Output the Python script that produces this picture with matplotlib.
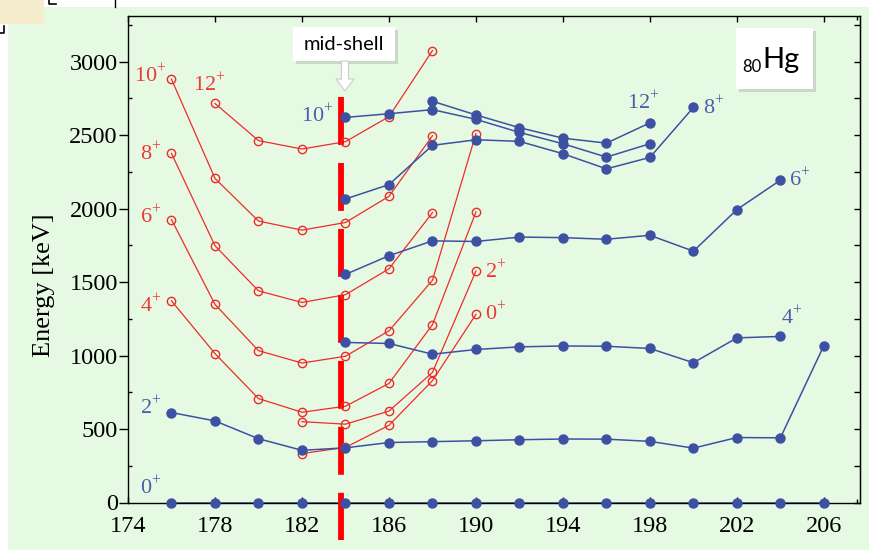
import matplotlib
matplotlib.use('Agg')
import matplotlib.pyplot as plt
from matplotlib.ticker import FixedLocator, MultipleLocator
from matplotlib.patches import Rectangle, FancyArrow
from matplotlib.lines import Line2D

plt.rcParams['mathtext.fontset'] = 'custom'
plt.rcParams['mathtext.rm'] = 'Liberation Serif'
plt.rcParams['lines.scale_dashes'] = False

# mass numbers
A_blue_0 = [176, 178, 180, 182, 184, 186, 188, 190, 192, 194, 196, 198, 200, 202, 204, 206]
blue_0 = [0, 0, 0, 0, 0, 0, 0, 0, 0, 0, 0, 0, 0, 0, 0, 0]
A_blue_2 = [176, 178, 180, 182, 184, 186, 188, 190, 192, 194, 196, 198, 200, 202, 204, 206]
blue_2 = [612, 555, 434, 355, 372, 408, 414, 420, 427, 432, 431, 416, 370, 442, 440, 1068]
A_blue_4 = [184, 186, 188, 190, 192, 194, 196, 198, 200, 202, 204]
blue_4 = [1089, 1082, 1009, 1041, 1059, 1065, 1063, 1048, 951, 1120, 1130]
A_blue_6 = [184, 186, 188, 190, 192, 194, 196, 198, 200, 202, 204]
blue_6 = [1552, 1679, 1780, 1776, 1806, 1802, 1791, 1818, 1710, 1993, 2193]
A_blue_8 = [184, 186, 188, 190, 192, 194, 196, 198, 200]
blue_8 = [2065, 2163, 2430, 2468, 2457, 2373, 2270, 2348, 2688]
A_blue_10 = [184, 186, 188, 190, 192, 194, 196, 198]
blue_10 = [2620, 2645, 2673, 2607, 2518, 2441, 2350, 2441]
A_blue_12 = [188, 190, 192, 194, 196, 198]
blue_12 = [2730, 2637, 2550, 2479, 2445, 2583]

A_red_0 = [182, 184, 186, 188, 190]
red_0 = [333, 375, 525, 829, 1280]
A_red_2 = [182, 184, 186, 188, 190]
red_2 = [550, 533, 622, 885, 1575]
A_red_4 = [176, 178, 180, 182, 184, 186, 188, 190]
red_4 = [1372, 1013, 707, 614, 655, 810, 1210, 1977]
A_red_6 = [176, 178, 180, 182, 184, 186, 188, 190]
red_6 = [1925, 1348, 1033, 949, 995, 1168, 1512, 2510]
A_red_8 = [176, 178, 180, 182, 184, 186, 188]
red_8 = [2375, 1747, 1440, 1361, 1414, 1590, 1972]
A_red_10 = [176, 178, 180, 182, 184, 186, 188]
red_10 = [2880, 2205, 1915, 1853, 1905, 2083, 2495]
A_red_12 = [178, 180, 182, 184, 186, 188]
red_12 = [2715, 2462, 2405, 2455, 2625, 3075]

x_ticks = [174, 178, 182, 186, 190, 194, 198, 202, 206]

W, H = 869, 550
BLUE = '#3D51A3'
RED = '#EE2B2B'
BLUE_TXT = '#4A5EAC'
RED_TXT = '#EF3838'
BG = '#E6FAE3'


def px(x, y):
    return x / W, 1 - y / H


fig = plt.figure(figsize=(W / 100, H / 100), dpi=100)
fig.patch.set_facecolor('white')

# green background + screenshot leftovers
fig.patches.append(Rectangle(px(8, 550), (W - 8) / W, (550 - 7) / H, transform=fig.transFigure,
                             facecolor=BG, edgecolor='none', zorder=-10))
fig.patches.append(Rectangle(px(0, 24), 44 / W, 24 / H, transform=fig.transFigure,
                             facecolor='#F6EDCC', edgecolor='none', zorder=-9))
fig.lines.append(Line2D([0, 4 / W, 4 / W], [1 - 33 / H, 1 - 33 / H, 1 - 26 / H],
                        transform=fig.transFigure, color='black', lw=1.2, zorder=-9))
fig.lines.append(Line2D([49 / W, 49 / W, 56 / W], [1, 1 - 4 / H, 1 - 4 / H],
                        transform=fig.transFigure, color='black', lw=1.2, zorder=-9))
fig.lines.append(Line2D([115 / W, 115 / W], [1, 1 - 7 / H],
                        transform=fig.transFigure, color='black', lw=1.0, zorder=-9))

ax = fig.add_axes([128 / W, 1 - 502.5 / H, (860 - 128) / W, (502.5 - 16) / H])
ax.set_facecolor('none')
ax.set_zorder(1)

blue_sets = [(A_blue_0, blue_0), (A_blue_2, blue_2), (A_blue_4, blue_4), (A_blue_6, blue_6),
             (A_blue_8, blue_8), (A_blue_10, blue_10), (A_blue_12, blue_12)]
red_sets = [(A_red_0, red_0), (A_red_2, red_2), (A_red_4, red_4), (A_red_6, red_6),
            (A_red_8, red_8), (A_red_10, red_10), (A_red_12, red_12)]

for a, e in red_sets:
    ax.plot(a, e, color=RED, lw=0.9, zorder=2, clip_on=False)
    ax.plot(a, e, 'o', mfc='none', mec=RED, mew=1.0, ms=6, zorder=4, clip_on=False)
for a, e in blue_sets:
    ax.plot(a, e, color=BLUE, lw=1.1, zorder=2, clip_on=False)
    ax.plot(a, e, 'o', color=BLUE, ms=6.5, zorder=4, clip_on=False)

# mid-shell line
ax.plot([183.8, 183.8], [2760, -256], color='#FF0000', lw=4.2,
        linestyle=(0, (34.5, 13)), zorder=3, clip_on=False)

ax.set_xlim(174, 207.66)
ax.set_ylim(0, 3310)
ax.xaxis.set_major_locator(FixedLocator(x_ticks))
ax.xaxis.set_minor_locator(FixedLocator([207.5]))
ax.yaxis.set_major_locator(MultipleLocator(500))
ax.yaxis.set_minor_locator(MultipleLocator(250))

ax.tick_params(axis='x', which='both', direction='in', top=True, bottom=True,
               length=4.3, width=1, pad=10)
ax.tick_params(axis='x', which='minor', length=3)
ax.tick_params(axis='y', which='major', direction='out', right=False, length=6.3, width=1, pad=1)
ax.tick_params(axis='y', which='minor', direction='in', right=False, length=3, width=1)
ax.tick_params(which='major', labelsize=17.5, labelfontfamily='Liberation Serif')

sec = ax.secondary_yaxis('right')
sec.yaxis.set_major_locator(MultipleLocator(250))
sec.tick_params(direction='in', length=4.3, width=1, labelright=False)

for s in ax.spines.values():
    s.set_linewidth(1.0)

fig.text(44 / W, 1 - 285 / H, 'Energy [keV]', rotation=90, ha='center', va='center',
         family='Liberation Serif', size=19)

# spin labels
red_labels = [('10', 175.75, 2867, 'right'), ('12', 178.46, 2806, 'right'),
              ('8', 175.52, 2337, 'right'), ('6', 175.55, 1904, 'right'),
              ('4', 175.55, 1300, 'right'), ('2', 190.41, 1533, 'left'),
              ('0', 190.41, 1243, 'left')]
blue_labels = [('10', 183.44, 2590, 'right'), ('12', 198.46, 2681, 'right'),
               ('8', 200.45, 2647, 'left'), ('6', 204.40, 2160, 'left'),
               ('4', 204.02, 1221, 'left'), ('2', 175.55, 609, 'right'),
               ('0', 175.55, 61, 'right')]
for txt, x, y, ha in red_labels:
    ax.text(x, y, txt + r'$^{+}$', color=RED_TXT, ha=ha, va='baseline',
            family='Liberation Serif', size=16, zorder=5)
for txt, x, y, ha in blue_labels:
    ax.text(x, y, txt + r'$^{+}$', color=BLUE_TXT, ha=ha, va='baseline',
            family='Liberation Serif', size=16, zorder=5)

# mid-shell callout
fig.patches.append(Rectangle(px(296, 64), 102 / W, 34 / H, transform=fig.transFigure,
                             facecolor='#B8C2B5', edgecolor='none', alpha=0.6, zorder=5))
fig.patches.append(Rectangle(px(293, 61), 102 / W, 34 / H, transform=fig.transFigure,
                             facecolor='white', edgecolor='none', zorder=6))
fig.text(*px(344, 44), 'mid-shell', ha='center', va='center', family='Lato', size=14.5, zorder=7)
fig.patches.append(FancyArrow(345 / W, 1 - 61 / H, 0, -30 / H, width=7 / W, head_width=18 / W,
                              head_length=12 / H, length_includes_head=True,
                              transform=fig.transFigure, facecolor='white',
                              edgecolor='#C8D0C6', lw=0.8, zorder=6))

# element box
fig.patches.append(Rectangle(px(739, 92), 77 / W, 61 / H, transform=fig.transFigure,
                             facecolor='#B8C2B5', edgecolor='none', alpha=0.6, zorder=5))
fig.patches.append(Rectangle(px(736, 89), 77 / W, 61 / H, transform=fig.transFigure,
                             facecolor='white', edgecolor='none', zorder=6))
fig.text(*px(742, 72), '80', ha='left', va='baseline', family='Lato', size=12, zorder=7)
fig.text(*px(762, 68), 'Hg', ha='left', va='baseline', family='Lato', size=21, zorder=7)

fig.savefig('out.png', dpi=100, facecolor=fig.get_facecolor())
